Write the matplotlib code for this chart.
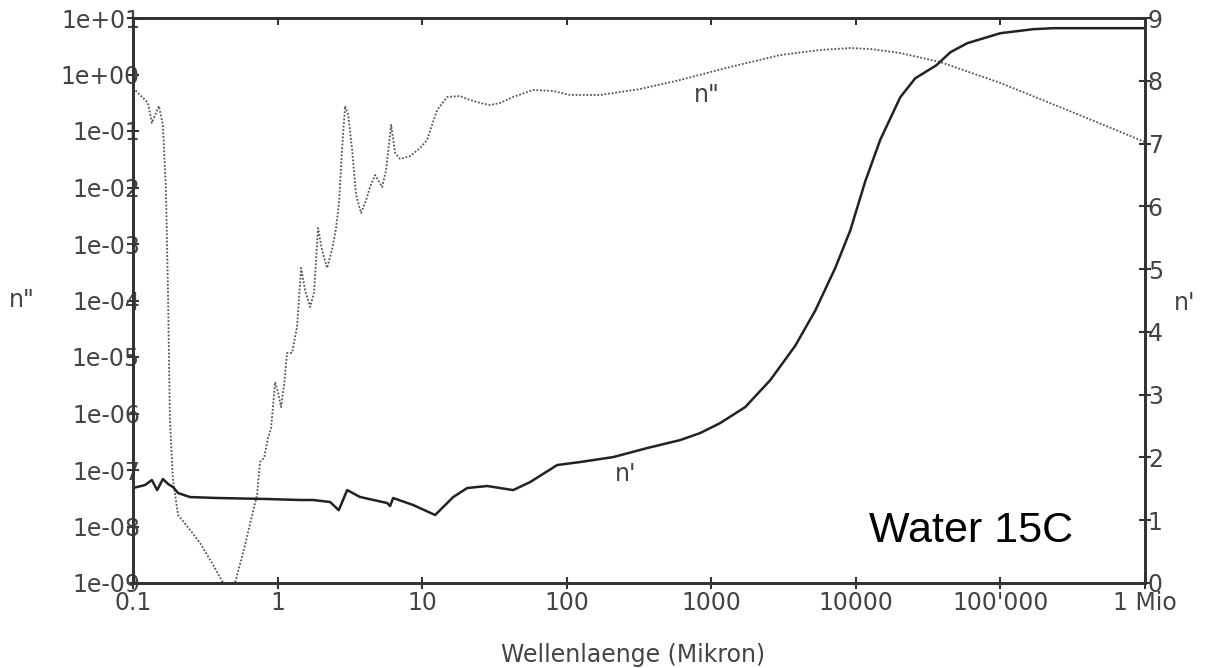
import matplotlib
matplotlib.use("Agg")
import matplotlib.pyplot as plt
from matplotlib.ticker import NullLocator, FixedLocator, FixedFormatter

# ---- data: n'' (imaginary part, left log axis) ----
wl_k = [0.100, 0.127, 0.135, 0.151, 0.161, 0.169, 0.175, 0.180, 0.189, 0.205,
        0.248, 0.291, 0.352, 0.420, 0.462, 0.508, 0.596, 0.667, 0.721, 0.757,
        0.807, 0.859, 0.902, 0.962, 1.007, 1.057, 1.109, 1.164, 1.259, 1.364,
        1.455, 1.549, 1.679, 1.790, 1.905, 2.03, 2.20, 2.38, 2.54, 2.67,
        2.79, 2.93, 3.08, 3.28, 3.49, 3.78, 4.10, 4.36, 4.73, 5.29,
        5.63, 6.10, 6.50, 7.05, 8.26, 9.69, 10.8, 11.7, 12.7, 14.9,
        18.3, 20.5, 25.2, 29.5, 34.6, 42.6, 58.6, 80.6, 105.6, 170.6,
        322, 610, 1352, 3000, 5675, 9160, 12590, 20300, 38400, 1e5,
        2.9e5, 1e6]
k_vals = [0.577, 0.313, 0.139, 0.277, 0.128, 9.0e-3, 1.02e-4, 7.7e-7, 6.7e-8, 1.6e-8,
          8.7e-9, 5.1e-9, 2.26e-9, 1.0e-9, 6.9e-10, 1.0e-9, 4.7e-9, 1.6e-8, 3.6e-8, 1.39e-7,
          1.63e-7, 3.7e-7, 5.5e-7, 3.6e-6, 2.4e-6, 1.30e-6, 3.2e-6, 1.18e-5, 1.18e-5, 3.4e-5,
          3.76e-4, 1.53e-4, 7.7e-5, 1.41e-4, 1.92e-3, 7.8e-4, 3.76e-4, 7.8e-4, 1.92e-3, 6.0e-3,
          0.046, 0.277, 0.192, 0.046, 7.4e-3, 3.54e-3, 6.0e-3, 0.0102, 0.0166, 0.0102,
          0.0204, 0.128, 0.041, 0.032, 0.036, 0.050, 0.069, 0.128, 0.235, 0.40,
          0.416, 0.368, 0.313, 0.289, 0.313, 0.40, 0.532, 0.511, 0.434, 0.434,
          0.553, 0.80, 1.36, 2.21, 2.72, 2.94, 2.83, 2.40, 1.66, 0.708,
          0.235, 0.0638]

# ---- data: n' (real part, right linear axis) ----
wl_n = [0.100, 0.121, 0.135, 0.147, 0.161, 0.175, 0.189, 0.205, 0.248, 0.381,
        0.845, 1.43, 1.76, 2.31, 2.65, 3.03, 3.72, 5.73, 6.00, 6.30,
        8.67, 12.3, 16.4, 20.5, 28.2, 42.6, 55.9, 85.9, 124, 210,
        361, 610, 839, 1153, 1718, 2560, 3810, 5240, 7210, 9160,
        11620, 14750, 20300, 25760, 36100, 45100, 59000, 1e5, 1.69e5, 2.33e5,
        1e6]
n_vals = [1.513, 1.56, 1.64, 1.48, 1.656, 1.576, 1.53, 1.433, 1.369, 1.354,
          1.338, 1.322, 1.322, 1.29, 1.16, 1.48, 1.37, 1.274, 1.226, 1.354,
          1.242, 1.083, 1.369, 1.513, 1.545, 1.48, 1.608, 1.879, 1.927, 2.006,
          2.15, 2.277, 2.389, 2.548, 2.803, 3.232, 3.78, 4.34, 5.02, 5.62,
          6.40, 7.06, 7.739, 8.04, 8.248, 8.455, 8.599, 8.758, 8.822, 8.838,
          8.838]

x_ticks = [0.1, 1, 10, 100, 1000, 10000, 1e5, 1e6]
x_labels = ["0.1", "1", "10", "100", "1000", "10000", "100'000", "1 Mio"]
yl_ticks = [1e1, 1e0, 1e-1, 1e-2, 1e-3, 1e-4, 1e-5, 1e-6, 1e-7, 1e-8, 1e-9]
yl_labels = ["1e+01", "1e+00", "1e-01", "1e-02", "1e-03", "1e-04", "1e-05",
             "1e-06", "1e-07", "1e-08", "1e-09"]
yr_ticks = list(range(0, 10))

TXT = "#444444"
SP = "#333333"
FS = 17

fig = plt.figure(figsize=(12.05, 6.68), dpi=100)
W, H = 1205, 668
ax = fig.add_axes([133 / W, 1 - 583 / H, (1145 - 133) / W, (583 - 18) / H])
ax2 = ax.twinx()

ax.set_xscale("log")
ax.set_yscale("log")
ax.set_xlim(0.1, 1e6)
ax.set_ylim(1e-9, 1e1)
ax2.set_ylim(0, 9)

ax.plot(wl_k, k_vals, color="#555555", lw=1.3, linestyle=(0, (1, 1)))
ax2.plot(wl_n, n_vals, color="#222222", lw=1.8)

ax.xaxis.set_major_locator(FixedLocator(x_ticks))
ax.xaxis.set_major_formatter(FixedFormatter(x_labels))
ax.xaxis.set_minor_locator(NullLocator())
ax.yaxis.set_major_locator(FixedLocator(yl_ticks))
ax.yaxis.set_major_formatter(FixedFormatter(yl_labels))
ax.yaxis.set_minor_locator(NullLocator())
ax2.yaxis.set_major_locator(FixedLocator(yr_ticks))

for a in (ax, ax2):
    for s in a.spines.values():
        s.set_color(SP)
        s.set_linewidth(2)

ax.tick_params(axis="x", direction="inout", length=8, width=1.5, color=SP,
               labelsize=FS, labelcolor=TXT, pad=2, top=False)
ax.tick_params(axis="y", direction="inout", length=8, width=1.5, color=SP,
               labelsize=FS, labelcolor=TXT, pad=-9)
ax2.tick_params(axis="y", direction="inout", length=8, width=1.5, color=SP,
                labelsize=FS, labelcolor=TXT, pad=-2)

top = ax.secondary_xaxis("top")
top.set_xticks(x_ticks[1:-1])
top.xaxis.set_minor_locator(NullLocator())
top.tick_params(direction="in", length=5, width=1.5, color=SP, labeltop=False)
top.spines["top"].set_linewidth(2)
top.spines["top"].set_color(SP)

ax.text(937, 0.434, 'n"', fontsize=FS, color=TXT, ha="center", va="center")
ax2.text(255, 1.74, "n'", fontsize=FS, color=TXT, ha="center", va="center")

fig.text(22 / W, 1 - 300 / H, 'n"', fontsize=FS, color=TXT, ha="center", va="center")
fig.text(1185 / W, 1 - 303 / H, "n'", fontsize=FS, color=TXT, ha="center", va="center")
fig.text(633 / W, 1 - 655 / H, "Wellenlaenge (Mikron)", fontsize=FS, color=TXT,
         ha="center", va="center")
fig.text(1073 / W, 1 - 542 / H, "Water 15C", fontsize=31, color="black",
         family=["Liberation Sans", "DejaVu Sans"], ha="right", va="baseline")

fig.savefig("out.png", dpi=100, facecolor="white")
